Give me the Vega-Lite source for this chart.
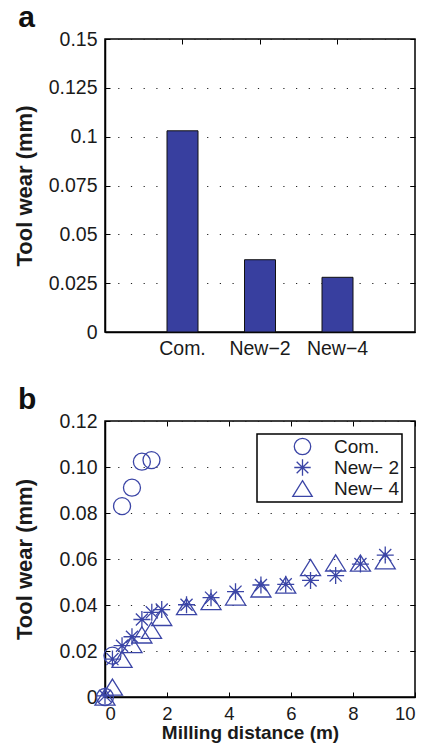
{
  "$schema": "https://vega.github.io/schema/vega-lite/v6.json",
  "padding": {"left": 12, "top": 2, "right": 9, "bottom": 1},
  "spacing": 25,
  "resolve": {"legend": {"shape": "independent"}},
  "config": {
    "font": "Liberation Sans",
    "view": {"stroke": "black", "strokeWidth": 1.5},
    "axis": {
      "labelFont": "Liberation Sans", "labelFontSize": 19.5, "labelColor": "#1a1a1a",
      "titleFont": "Liberation Sans", "titleFontWeight": "bold", "titleColor": "#1a1a1a",
      "domainColor": "black", "domainWidth": 1.5,
      "tickColor": "black", "tickWidth": 1, "tickSize": -5,
      "gridColor": "#222222", "gridDash": [1.2, 11.5], "gridWidth": 1.2, "gridOpacity": 1
    },
    "title": {"font": "Liberation Sans", "fontWeight": "bold", "color": "#111111", "anchor": "start", "frame": "bounds", "baseline": "alphabetic"},
    "legend": {
      "strokeColor": "black", "strokeWidth": 1.5, "fillColor": "white",
      "labelFont": "Liberation Sans", "labelFontSize": 19, "labelColor": "#1a1a1a",
      "symbolSize": 270, "symbolStrokeColor": "#3B45A6", "symbolFillColor": "transparent", "symbolStrokeWidth": 1.3,
      "rowPadding": -3.5
    }
  },
  "vconcat": [
    {
      "width": 310, "height": 293,
      "title": {"text": "a", "fontSize": 30, "offset": -4, "dx": 5},
      "data": {"values": [
        {"group": "Com.", "wear": 0.103},
        {"group": "New−2", "wear": 0.037},
        {"group": "New−4", "wear": 0.028}
      ]},
      "layer": [
        {
          "mark": {"type": "bar", "color": "#383F9F", "stroke": "#111111", "strokeWidth": 1},
          "encoding": {
            "x": {"field": "group", "type": "nominal", "sort": null,
                  "scale": {"paddingInner": 0.6, "paddingOuter": 0.8},
                  "axis": {"title": null, "labelAngle": 0, "ticks": false, "labelPadding": 7}},
            "y": {"field": "wear", "type": "quantitative", "scale": {"domain": [0, 0.15], "nice": false},
                  "axis": {"title": "Tool wear (mm)", "titleFontSize": 22, "titlePadding": 12,
                           "values": [0, 0.025, 0.05, 0.075, 0.1, 0.125, 0.15],
                           "labelExpr": "format(datum.value, '~g')",
                           "grid": true, "labelPadding": 13}}
          }
        },
        {
          "mark": {"type": "bar", "opacity": 0},
          "encoding": {
            "x": {"field": "group", "type": "nominal", "sort": null,
                  "axis": {"orient": "top", "title": null, "labels": false, "domain": false, "grid": false}},
            "y": {"field": "wear", "type": "quantitative",
                  "axis": {"orient": "right", "title": null, "labels": false, "domain": false, "grid": false,
                           "values": [0, 0.025, 0.05, 0.075, 0.1, 0.125, 0.15]}}
          }
        }
      ],
      "resolve": {"axis": {"x": "independent", "y": "independent"}}
    },
    {
      "width": 310, "height": 276,
      "title": {"text": "b", "fontSize": 30, "offset": -4, "dx": 5},
      "data": {"values": [
        {"series": "Com.", "distance": 0, "wear": 0},
        {"series": "Com.", "distance": 0.24, "wear": 0.018},
        {"series": "Com.", "distance": 0.55, "wear": 0.083},
        {"series": "Com.", "distance": 0.87, "wear": 0.091},
        {"series": "Com.", "distance": 1.19, "wear": 0.1023},
        {"series": "Com.", "distance": 1.5, "wear": 0.103},
        {"series": "New− 2", "distance": 0, "wear": 0.0005},
        {"series": "New− 2", "distance": 0.24, "wear": 0.0165},
        {"series": "New− 2", "distance": 0.55, "wear": 0.0223},
        {"series": "New− 2", "distance": 0.87, "wear": 0.0262},
        {"series": "New− 2", "distance": 1.19, "wear": 0.0337},
        {"series": "New− 2", "distance": 1.51, "wear": 0.0368},
        {"series": "New− 2", "distance": 1.83, "wear": 0.038},
        {"series": "New− 2", "distance": 2.63, "wear": 0.0401},
        {"series": "New− 2", "distance": 3.42, "wear": 0.0432},
        {"series": "New− 2", "distance": 4.21, "wear": 0.0458},
        {"series": "New− 2", "distance": 5.03, "wear": 0.0487},
        {"series": "New− 2", "distance": 5.83, "wear": 0.049},
        {"series": "New− 2", "distance": 6.63, "wear": 0.0507},
        {"series": "New− 2", "distance": 7.44, "wear": 0.0528},
        {"series": "New− 2", "distance": 8.24, "wear": 0.0578},
        {"series": "New− 2", "distance": 9.04, "wear": 0.0617},
        {"series": "New− 4", "distance": 0, "wear": 0},
        {"series": "New− 4", "distance": 0.24, "wear": 0.0043},
        {"series": "New− 4", "distance": 0.55, "wear": 0.0164},
        {"series": "New− 4", "distance": 0.87, "wear": 0.0228},
        {"series": "New− 4", "distance": 1.19, "wear": 0.027},
        {"series": "New− 4", "distance": 1.5, "wear": 0.029},
        {"series": "New− 4", "distance": 1.83, "wear": 0.0346},
        {"series": "New− 4", "distance": 2.63, "wear": 0.0393},
        {"series": "New− 4", "distance": 3.42, "wear": 0.0415},
        {"series": "New− 4", "distance": 4.21, "wear": 0.0435},
        {"series": "New− 4", "distance": 5.03, "wear": 0.047},
        {"series": "New− 4", "distance": 5.83, "wear": 0.0487},
        {"series": "New− 4", "distance": 6.63, "wear": 0.0563},
        {"series": "New− 4", "distance": 7.44, "wear": 0.0583},
        {"series": "New− 4", "distance": 8.24, "wear": 0.0582},
        {"series": "New− 4", "distance": 9.04, "wear": 0.0592}
      ]},
      "layer": [
        {
          "mark": {"type": "point", "filled": false, "color": "#3B45A6", "strokeWidth": 1.3, "size": 289, "opacity": 1},
          "encoding": {
            "x": {"field": "distance", "type": "quantitative", "scale": {"domain": [0, 10], "nice": false},
                  "axis": {"title": "Milling distance (m)", "titleFontSize": 19, "titlePadding": 1, "titleX": 145, "labelFontSize": 18.5,
                           "values": [0, 2, 4, 6, 8, 10], "grid": false, "labelPadding": 12}},
            "y": {"field": "wear", "type": "quantitative", "scale": {"domain": [0, 0.12], "nice": false},
                  "axis": {"title": "Tool wear (mm)", "titleFontSize": 22, "titlePadding": 23,
                           "values": [0, 0.02, 0.04, 0.06, 0.08, 0.1, 0.12],
                           "labelExpr": "datum.value == 0 ? '0' : format(datum.value, '.2f')",
                           "grid": true, "labelPadding": 13}},
            "shape": {"field": "series", "type": "nominal",
                      "scale": {"domain": ["Com.", "New− 2", "New− 4"],
                                "range": ["circle",
                                          "M-1,0L1,0M0,-1L0,1M-0.71,-0.71L0.71,0.71M-0.71,0.71L0.71,-0.71M-0.12,-0.12L0.12,-0.12L0.12,0.12L-0.12,0.12Z",
                                          "M0,-0.95L1.18,0.95L-1.18,0.95Z"]},
                      "legend": {
                        "title": null, "orient": "top-right", "offset": 13, "padding": 3,
                        "symbolOffset": 33, "labelOffset": 22
                      }}
          }
        },
        {
          "mark": {"type": "point", "opacity": 0},
          "encoding": {
            "x": {"field": "distance", "type": "quantitative",
                  "axis": {"orient": "top", "title": null, "labels": false, "domain": false, "grid": false,
                           "values": [0, 2, 4, 6, 8, 10]}},
            "y": {"field": "wear", "type": "quantitative",
                  "axis": {"orient": "right", "title": null, "labels": false, "domain": false, "grid": false,
                           "values": [0, 0.02, 0.04, 0.06, 0.08, 0.1, 0.12]}}
          }
        }
      ],
      "resolve": {"axis": {"x": "independent", "y": "independent"}}
    }
  ]
}
